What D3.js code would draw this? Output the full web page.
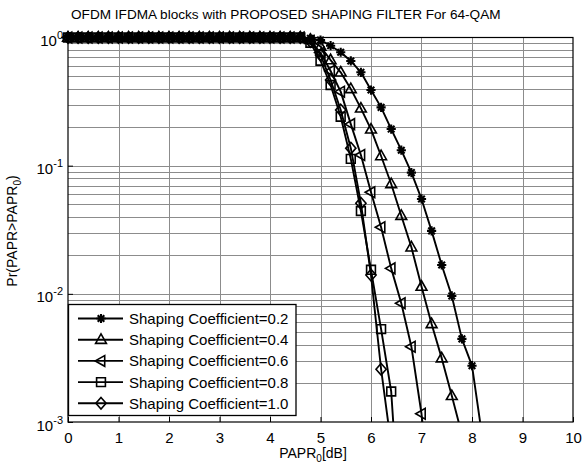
<!DOCTYPE html>
<html>
<head>
<meta charset="utf-8">
<script src="https://cdn.jsdelivr.net/npm/d3@7"></script>
<style>
  html, body { margin: 0; padding: 0; background: #fff; }
  svg { display: block; font-family: "Liberation Sans", Arial, sans-serif; }
</style>
</head>
<body>
<svg id="chart" width="583" height="464"></svg>
<script>
// PAPR0 thresholds in dB
const papr = [0, 0.2, 0.4, 0.6, 0.8, 1, 1.2, 1.4, 1.6, 1.8, 2, 2.2, 2.4, 2.6, 2.8, 3,
  3.2, 3.4, 3.6, 3.8, 4, 4.2, 4.4, 4.6, 4.8, 5, 5.2, 5.4, 5.6, 5.8, 6, 6.2, 6.4, 6.6,
  6.8, 7, 7.2, 7.4, 7.6, 7.8, 8, 8.2];

// CCDF Pr(PAPR > PAPR0) for each shaping coefficient
const ccdf02 = [1, 1, 1, 1, 1, 1, 1, 1, 1, 1, 1, 1, 1, 1, 1, 1, 1, 1, 1, 1, 1, 1, 1, 1,
  0.985, 0.955, 0.863, 0.767, 0.656, 0.535, 0.389, 0.285, 0.193, 0.132, 0.0882, 0.0550,
  0.0310, 0.0168, 0.00963, 0.00445, 0.00275, 0.00078];
const ccdf04 = [1, 1, 1, 1, 1, 1, 1, 1, 1, 1, 1, 1, 1, 1, 1, 1, 1, 1, 1, 1, 1, 1, 1, 1,
  0.96, 0.85, 0.667, 0.535, 0.397, 0.280, 0.192, 0.119, 0.072, 0.0407, 0.0231, 0.0114,
  0.00582, 0.00315, 0.0016, 0.0008];
const ccdf06 = [1, 1, 1, 1, 1, 1, 1, 1, 1, 1, 1, 1, 1, 1, 1, 1, 1, 1, 1, 1, 1, 1, 1, 1,
  0.94, 0.76, 0.548, 0.378, 0.211, 0.121, 0.0620, 0.0331, 0.0158, 0.00845, 0.00387,
  0.00116, 0.0002];
const ccdf08 = [1, 1, 1, 1, 1, 1, 1, 1, 1, 1, 1, 1, 1, 1, 1, 1, 1, 1, 1, 1, 1, 1, 1, 1,
  0.91, 0.659, 0.426, 0.241, 0.113, 0.0443, 0.0154, 0.0053, 0.00173, 0.00011];
const ccdf10 = [1, 1, 1, 1, 1, 1, 1, 1, 1, 1, 1, 1, 1, 1, 1, 1, 1, 1, 1, 1, 1, 1, 1, 1,
  0.93, 0.73, 0.466, 0.272, 0.137, 0.0509, 0.0140, 0.00258, 0.00066];

const seriesNames = ["Shaping Coefficient=0.2", "Shaping Coefficient=0.4",
  "Shaping Coefficient=0.6", "Shaping Coefficient=0.8", "Shaping Coefficient=1.0"];
const seriesMarkers = ["asterisk", "triangleUp", "triangleLeft", "square", "diamond"];

const xTicks = [0, 1, 2, 3, 4, 5, 6, 7, 8, 9, 10];
const yTicks = [0.001, 0.01, 0.1, 1];
const yTickExponents = ["-3", "-2", "-1", "0"];

const titleText = "OFDM IFDMA blocks with PROPOSED SHAPING FILTER For 64-QAM";

const allSeries = [ccdf02, ccdf04, ccdf06, ccdf08, ccdf10].map((vals, i) => ({
  name: seriesNames[i],
  marker: seriesMarkers[i],
  points: vals.map((v, j) => ({ x: papr[j], y: v }))
}));

const svg = d3.select("#chart");
const plotL = 68, plotR = 573, plotT = 37.5, plotB = 422;

const x = d3.scaleLinear().domain([0, 10]).range([plotL, plotR]);
const y = d3.scaleLog().domain([1e-3, 1]).range([plotB, plotT]);

// marker shapes, centred on the data point
const markerPath = {
  asterisk: "M-4.6,0L4.6,0M0,-4.6L0,4.6M-3.3,-3.3L3.3,3.3M-3.3,3.3L3.3,-3.3",
  triangleUp: "M0,-5.8L5.4,3.7L-5.4,3.7Z",
  triangleLeft: "M-5.8,0L3.7,-5.4L3.7,5.4Z",
  square: "M-4.4,-4.4L4.4,-4.4L4.4,4.4L-4.4,4.4Z",
  diamond: "M0,-5.8L5.1,0L0,5.8L-5.1,0Z"
};
function drawMarker(sel, type) {
  sel.append("path")
    .attr("d", markerPath[type])
    .attr("fill", "none")
    .attr("stroke", "#000")
    .attr("stroke-width", type === "asterisk" ? 2.1 : 1.6);
}

// background
svg.append("rect").attr("x", plotL).attr("y", plotT)
  .attr("width", plotR - plotL).attr("height", plotB - plotT).attr("fill", "#fff");

// grid
const grid = svg.append("g").attr("stroke", "#8c8c8c").attr("stroke-width", 1);
xTicks.slice(1, -1).forEach(t => {
  grid.append("line").attr("x1", Math.round(x(t)) + 0.5).attr("x2", Math.round(x(t)) + 0.5)
    .attr("y1", plotT).attr("y2", plotB);
});
y.ticks().forEach(t => {
  if (t <= 1e-3 || t >= 1) return;
  grid.append("line").attr("x1", plotL).attr("x2", plotR)
    .attr("y1", Math.round(y(t)) + 0.5).attr("y2", Math.round(y(t)) + 0.5);
});

// axes with inward ticks
const xAxis = svg.append("g").attr("transform", `translate(0,${plotB})`)
  .call(d3.axisBottom(x).tickValues(xTicks).tickSize(-5).tickSizeOuter(0).tickFormat(""));
const yAxis = svg.append("g").attr("transform", `translate(${plotL},0)`)
  .call(d3.axisLeft(y).tickValues(yTicks).tickSize(-5).tickSizeOuter(0).tickFormat(""));
[xAxis, yAxis].forEach(a => {
  a.selectAll("line").attr("stroke", "#000");
  a.select(".domain").attr("stroke", "none");
});

// box
svg.append("rect").attr("x", plotL).attr("y", plotT)
  .attr("width", plotR - plotL).attr("height", plotB - plotT)
  .attr("fill", "none").attr("stroke", "#000").attr("stroke-width", 1.2);

// tick labels
xAxis.selectAll(".tick").append("text")
  .attr("y", 21).attr("text-anchor", "middle")
  .attr("fill", "#000").attr("font-size", 15)
  .text(d => d);

yAxis.selectAll(".tick").each(function (d, i) {
  const t = d3.select(this).append("text")
    .attr("x", -5).attr("y", 8).attr("text-anchor", "end")
    .attr("fill", "#000").attr("font-size", 15);
  t.append("tspan").text("10");
  t.append("tspan").attr("dy", -7).attr("font-size", 11).text(yTickExponents[i]);
});

// curves
svg.append("defs").append("clipPath").attr("id", "plotClip")
  .append("rect").attr("x", plotL).attr("y", plotT)
  .attr("width", plotR - plotL).attr("height", plotB - plotT);

const line = d3.line().x(d => x(d.x)).y(d => y(d.y));
const curves = svg.append("g");
allSeries.forEach(s => {
  curves.append("path")
    .datum(s.points)
    .attr("clip-path", "url(#plotClip)")
    .attr("d", line)
    .attr("fill", "none")
    .attr("stroke", "#000")
    .attr("stroke-width", 1.9)
    .attr("stroke-linejoin", "round");
});
allSeries.forEach(s => {
  s.points.filter(p => p.y >= 1e-3 && p.y <= 1).forEach(p => {
    const g = curves.append("g").attr("transform", `translate(${x(p.x)},${y(p.y)})`);
    drawMarker(g, s.marker);
  });
});

// legend
const lg = svg.append("g");
const lgX = 68.5, lgY = 304.5, lgW = 227.5, lgH = 111;
lg.append("rect").attr("x", lgX).attr("y", lgY).attr("width", lgW).attr("height", lgH)
  .attr("fill", "#fff").attr("stroke", "#000").attr("stroke-width", 1.3);
allSeries.forEach((s, i) => {
  const ry = 318.5 + i * 21.2;
  lg.append("line").attr("x1", 78).attr("x2", 123).attr("y1", ry).attr("y2", ry)
    .attr("stroke", "#000").attr("stroke-width", 1.9);
  drawMarker(lg.append("g").attr("transform", `translate(101,${ry})`), s.marker);
  lg.append("text").attr("x", 129).attr("y", ry + 5.5)
    .attr("font-size", 15).attr("fill", "#000").text(s.name);
});

// title and axis labels
svg.append("text").attr("x", 71).attr("y", 19)
  .attr("font-size", 13.6).attr("fill", "#000").text(titleText);

const xl = svg.append("text").attr("x", 313).attr("y", 458)
  .attr("text-anchor", "middle").attr("font-size", 14).attr("fill", "#000");
xl.append("tspan").text("PAPR");
xl.append("tspan").attr("dy", 4).attr("font-size", 10).text("0");
xl.append("tspan").attr("dy", -4).text("[dB]");

const yl = svg.append("text")
  .attr("transform", "translate(17,231) rotate(-90)")
  .attr("text-anchor", "middle").attr("font-size", 14).attr("fill", "#000");
yl.append("tspan").text("Pr(PAPR>PAPR");
yl.append("tspan").attr("dy", 4).attr("font-size", 10).text("0");
yl.append("tspan").attr("dy", -4).text(")");
</script>
</body>
</html>
